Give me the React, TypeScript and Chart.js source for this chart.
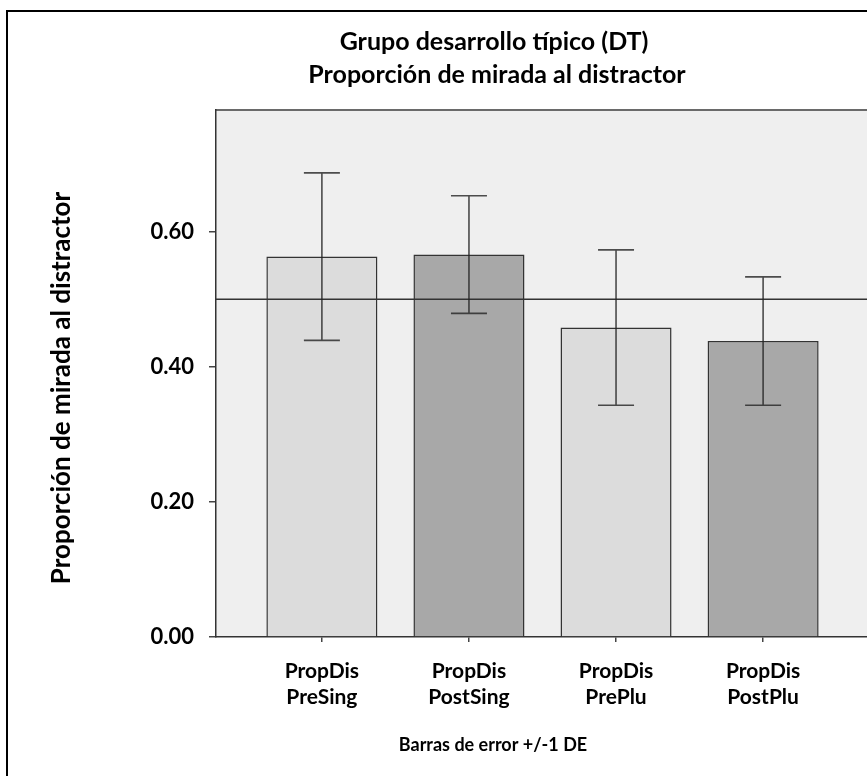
import React, { useEffect, useRef } from "react";
import { Chart, registerables } from "chart.js";

Chart.register(...registerables);

const categories: string[][] = [
  ["PropDis", "PreSing"],
  ["PropDis", "PostSing"],
  ["PropDis", "PrePlu"],
  ["PropDis", "PostPlu"],
];
const categoryIndex = [0, 1, 2, 3];
const means = [0.563, 0.566, 0.458, 0.438];
const sds = [0.124, 0.087, 0.115, 0.095];
const refValue = 0.5;
const yTicks = [0, 0.2, 0.4, 0.6];
const titleLines = ["Grupo desarrollo típico (DT)", "Proporción de mirada al distractor"];
const yTitle = "Proporción de mirada al distractor";
const xCaption = "Barras de error +/-1 DE";
const barColors = ["#dcdcdc", "#a8a8a8", "#dcdcdc", "#a8a8a8"];

const FONT = "Lato, 'Open Sans', sans-serif";

const bgPlugin = {
  id: "plotBg",
  beforeDraw(chart: any) {
    const { ctx, chartArea: a } = chart;
    ctx.save();
    ctx.fillStyle = "#efefef";
    ctx.fillRect(a.left, a.top, a.right - a.left, a.bottom - a.top);
    ctx.strokeStyle = "#6a6a6a";
    ctx.lineWidth = 2;
    ctx.beginPath();
    ctx.moveTo(a.left, a.top);
    ctx.lineTo(a.right, a.top);
    ctx.stroke();
    ctx.restore();
  },
};

const overlayPlugin = {
  id: "overlay",
  afterDatasetsDraw(chart: any) {
    const { ctx, chartArea: a } = chart;
    const y = chart.scales.y;
    ctx.save();
    const ry = y.getPixelForValue(refValue);
    ctx.strokeStyle = "#333";
    ctx.lineWidth = 1.6;
    ctx.beginPath();
    ctx.moveTo(a.left, ry);
    ctx.lineTo(a.right, ry);
    ctx.stroke();
    const meta = chart.getDatasetMeta(0);
    ctx.strokeStyle = "rgba(35,35,35,0.8)";
    ctx.lineWidth = 1.6;
    meta.data.forEach((bar: any, i: number) => {
      const x = bar.x;
      const yt = y.getPixelForValue(means[i] + sds[i]);
      const yb = y.getPixelForValue(means[i] - sds[i]);
      const cap = 18;
      ctx.beginPath();
      ctx.moveTo(x, yt);
      ctx.lineTo(x, yb);
      ctx.moveTo(x - cap, yt);
      ctx.lineTo(x + cap, yt);
      ctx.moveTo(x - cap, yb);
      ctx.lineTo(x + cap, yb);
      ctx.stroke();
    });
    ctx.restore();
  },
  afterDraw(chart: any) {
    const { ctx } = chart;
    ctx.save();
    ctx.fillStyle = "#000";
    ctx.textAlign = "center";
    ctx.textBaseline = "middle";
    ctx.font = `bold 25px ${FONT}`;
    ctx.fillText(titleLines[0], 494, 42);
    ctx.fillText(titleLines[1], 497, 75);
    ctx.font = `bold 18px ${FONT}`;
    ctx.fillText(xCaption, 493, 745);
    ctx.translate(62, 388);
    ctx.rotate(-Math.PI / 2);
    ctx.font = `bold 26px ${FONT}`;
    ctx.fillText(yTitle, 0, 0);
    ctx.restore();
  },
};

export default function App() {
  const ref = useRef<HTMLCanvasElement | null>(null);
  useEffect(() => {
    if (!ref.current) return;
    const chart = new Chart(ref.current, {
      type: "bar",
      data: {
        datasets: [
          {
            data: categoryIndex.map((c, i) => ({ x: c, y: means[i] })),
            backgroundColor: barColors,
            borderColor: "#333",
            borderWidth: 1.5,
            barPercentage: 0.755,
            categoryPercentage: 1,
          },
        ],
      },
      options: {
        animation: false,
        responsive: false,
        maintainAspectRatio: false,
        layout: { padding: { left: 0, top: 110, right: 31, bottom: 0 } },
        plugins: { legend: { display: false }, tooltip: { enabled: false }, title: { display: false } },
        scales: {
          x: {
            type: "linear",
            min: -0.72,
            max: 3.72,
            offset: false,
            afterBuildTicks: (s: any) => {
              s.ticks = categoryIndex.map((v) => ({ value: v }));
            },
            afterFit: (s: any) => {
              s.height = 139;
            },
            ticks: {
              autoSkip: false,
              maxRotation: 0,
              padding: 16,
              color: "#000",
              font: { family: FONT, size: 21, weight: "bold", lineHeight: 1.25 },
              callback: (v: any) => categories[Math.round(Number(v))] ?? "",
            },
            grid: { offset: false, drawOnChartArea: false, drawTicks: true, tickLength: 5, color: "#444", lineWidth: 1.5 },
            border: { display: true, color: "#333", width: 1.5 },
          },
          y: {
            type: "linear",
            min: 0,
            max: 0.78,
            afterBuildTicks: (s: any) => {
              s.ticks = yTicks.map((v) => ({ value: v }));
            },
            afterFit: (s: any) => {
              s.width = 216;
            },
            ticks: {
              padding: 15,
              color: "#000",
              font: { family: FONT, size: 22, weight: "bold" },
              callback: (v: any) => Number(v).toFixed(2),
            },
            grid: { drawOnChartArea: false, drawTicks: true, tickLength: 7, color: "#444", lineWidth: 1.5 },
            border: { display: true, color: "#333", width: 1.5 },
          },
        },
      },
      plugins: [bgPlugin, overlayPlugin],
    });
    return () => chart.destroy();
  }, []);

  return (
    <div
      style={{
        position: "fixed",
        left: 0,
        top: 0,
        width: 867,
        height: 776,
        overflow: "hidden",
        background: "#fff",
      }}
    >
      <div
        style={{
          position: "absolute",
          left: 6,
          top: 10,
          width: 1000,
          height: 1000,
          border: "2px solid #000",
          boxSizing: "border-box",
        }}
      />
      <canvas
        ref={ref}
        width={900}
        height={776}
        style={{ position: "absolute", left: 0, top: 0, width: 900, height: 776 }}
      />
    </div>
  );
}
